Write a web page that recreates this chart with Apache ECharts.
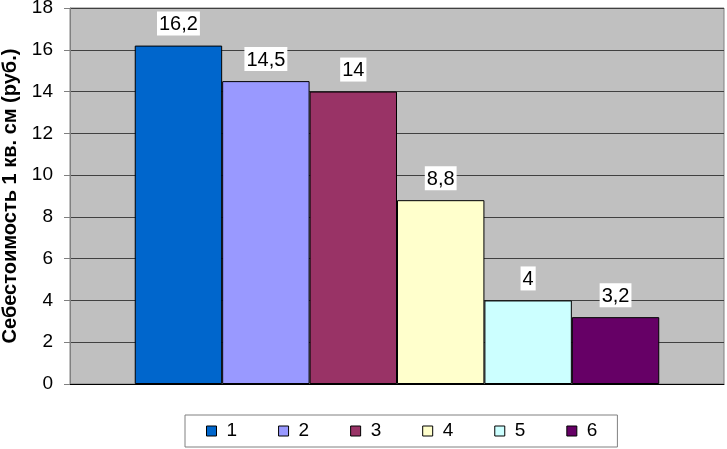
<!DOCTYPE html>
<html><head><meta charset="utf-8">
<script src="https://cdn.jsdelivr.net/npm/echarts@6/dist/echarts.min.js"></script>
<style>html,body{margin:0;padding:0;background:#fff}#c{width:727px;height:449px}</style>
</head><body><div id="c"></div>
<script>
var seriesNames = ['1','2','3','4','5','6'];
var values = [16.2, 14.5, 14, 8.8, 4, 3.2];
var colors = ['#0066CC','#9999FF','#993366','#FFFFCC','#CCFFFF','#660066'];
var yTicks = [0,2,4,6,8,10,12,14,16,18];
var yTitle = 'Себестоимость 1 кв. см (руб.)';

var FONT = 'Arial, "Liberation Sans", sans-serif';
var chart = echarts.init(document.getElementById('c'));
var series = seriesNames.map(function(n,i){
  return {
    name: n, type: 'bar', data: [values[i]],
    barGap: '0%', barCategoryGap: '19.8%',
    itemStyle: {color: colors[i], borderColor: '#000', borderWidth: 1},
    label: {
      show: true, position: 'top', distance: 10,
      backgroundColor: '#fff', padding: [3,2,1,2],
      fontFamily: FONT, fontSize: 20, color: '#000', lineHeight: 20,
      formatter: function(p){ return String(p.value).replace('.', ','); }
    }
  };
});
chart.setOption({
  animation: false,
  backgroundColor: '#fff',
  grid: {left: 70, right: 3, top: 8, bottom: 65, show: true, outerBoundsMode: 'none', containLabel: false,
         backgroundColor: '#C0C0C0', borderColor: '#808080', borderWidth: 1},
  legend: {
    data: seriesNames, top: 415, left: 185,
    itemWidth: 10, itemHeight: 10, itemGap: 41,
    icon: 'rect',
    backgroundColor: '#fff', borderColor: '#808080', borderWidth: 1,
    padding: [6, 20, 6, 21],
    textStyle: {fontFamily: FONT, fontSize: 19, color: '#000', padding: [0,0,0,5], lineHeight: 20},
    itemStyle: {borderColor: '#000', borderWidth: 1}
  },
  xAxis: {
    type: 'category', data: [''],
    axisLine: {lineStyle: {color: '#000'}},
    axisTick: {show: false}, axisLabel: {show: false}
  },
  yAxis: {
    type: 'value', min: yTicks[0], max: yTicks[yTicks.length-1], interval: 2,
    name: yTitle, nameLocation: 'middle', nameGap: 46,
    nameTextStyle: {fontFamily: FONT, fontSize: 20, fontWeight: 'bold', color: '#000'},
    axisLine: {show: true, lineStyle: {color: '#808080'}},
    axisTick: {show: true, length: 6, lineStyle: {color: '#808080'}},
    axisLabel: {fontFamily: FONT, fontSize: 19, color: '#000', margin: 17},
    splitLine: {lineStyle: {color: '#404040', width: 1}}
  },
  series: series
});
</script></body></html>
